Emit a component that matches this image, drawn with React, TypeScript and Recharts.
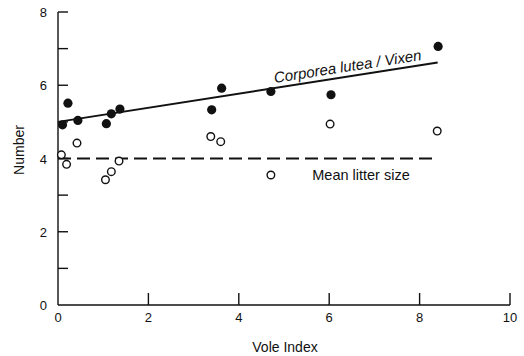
import { ComposedChart, Scatter, XAxis, YAxis, ReferenceLine } from 'recharts';

// Corpora lutea per vixen (filled) and litter size (open) against vole index
const lutea_x = [0.1, 0.22, 0.44, 1.07, 1.18, 1.37, 3.4, 3.62, 4.71, 6.04, 8.41];
const lutea_y = [4.92, 5.51, 5.04, 4.95, 5.22, 5.35, 5.33, 5.92, 5.83, 5.74, 7.06];
const litter_x = [0.075, 0.19, 0.42, 1.05, 1.18, 1.35, 3.38, 3.6, 4.71, 6.02, 8.39];
const litter_y = [4.1, 3.84, 4.42, 3.42, 3.64, 3.93, 4.6, 4.46, 3.55, 4.94, 4.75];

// fitted line end points and mean litter size
const fitStart = { x: 0, y: 5.0 };
const fitEnd = { x: 8.4, y: 6.62 };
const meanLitter = 4;
const meanEnd = 8.4;

const xTicks = [0, 2, 4, 6, 8, 10];
const yTicks = [0, 1, 2, 3, 4, 5, 6, 7, 8];

const luteaData = lutea_x.map((x, i) => ({ x, y: lutea_y[i] }));
const litterData = litter_x.map((x, i) => ({ x, y: litter_y[i] }));

const FONT = '"Liberation Sans", Arial, Helvetica, sans-serif';
const INK = '#111';

const XTick = (props: any) => {
  const { x, y, payload } = props;
  return (
    <g>
      {payload.value !== 0 && (
        <line x1={x} y1={y} x2={x} y2={y - 12} stroke={INK} strokeWidth={1.4} />
      )}
      <text x={x} y={y + 17} textAnchor="middle" fontSize={13} fontFamily={FONT} fill={INK}>
        {payload.value}
      </text>
    </g>
  );
};

const YTick = (props: any) => {
  const { x, y, payload } = props;
  const v = payload.value;
  return (
    <g>
      {v !== 0 && <line x1={x} y1={y} x2={x + 10} y2={y} stroke={INK} strokeWidth={1.4} />}
      {v % 2 === 0 && (
        <text x={x - 11} y={y + 5} textAnchor="end" fontSize={13} fontFamily={FONT} fill={INK}>
          {v}
        </text>
      )}
    </g>
  );
};

const FilledDot = (props: any) => <circle cx={props.cx} cy={props.cy} r={4.6} fill={INK} />;
const OpenDot = (props: any) => (
  <circle cx={props.cx} cy={props.cy} r={3.8} fill="#fff" stroke={INK} strokeWidth={1.4} />
);

const FitLabel = (props: any) => {
  const { x, y, width, height } = props.viewBox;
  const x1 = x;
  const y1 = y + height;
  const x2 = x + width;
  const y2 = y;
  const t = 0.767;
  const px = x1 + t * (x2 - x1);
  const py = y1 + t * (y2 - y1);
  const ang = (Math.atan2(y2 - y1, x2 - x1) * 180) / Math.PI;
  return (
    <text
      x={px}
      y={py - 5}
      textAnchor="middle"
      fontSize={15}
      fontStyle="italic"
      fontFamily={FONT}
      fill={INK}
      transform={`rotate(${ang} ${px} ${py})`}
    >
      Corporea lutea / Vixen
    </text>
  );
};

const MeanLabel = (props: any) => {
  const { x, y } = props.viewBox;
  return (
    <text x={x + 303} y={y + 21} textAnchor="middle" fontSize={14.5} fontFamily={FONT} fill={INK}>
      Mean litter size
    </text>
  );
};

const XTitle = (props: any) => {
  const { x, y, width } = props.viewBox;
  return (
    <text x={x + width / 2 + 1} y={y + 47} textAnchor="middle" fontSize={14} fontFamily={FONT} fill={INK}>
      Vole Index
    </text>
  );
};

const YTitle = (props: any) => {
  const { y } = props.viewBox;
  const cx = 24;
  const cy = y + 138;
  return (
    <text
      x={cx}
      y={cy}
      textAnchor="middle"
      fontSize={14}
      fontFamily={FONT}
      fill={INK}
      transform={`rotate(-90 ${cx} ${cy})`}
    >
      Number
    </text>
  );
};

export default function App() {
  return (
    <div style={{ position: 'absolute', left: 0, top: 0, width: 524, height: 356, background: '#fff' }}>
      <ComposedChart
        width={524}
        height={356}
        margin={{ top: 12, right: 14, bottom: 21, left: 18 }}
      >
        <XAxis
          type="number"
          dataKey="x"
          domain={[0, 10]}
          ticks={xTicks}
          height={30}
          tickSize={0}
          tickMargin={0}
          tickLine={false}
          tick={<XTick />}
          stroke={INK}
          strokeWidth={1.4}
          label={<XTitle />}
        />
        <YAxis
          type="number"
          dataKey="y"
          domain={[0, 8]}
          ticks={yTicks}
          width={40}
          tickSize={0}
          tickMargin={0}
          tickLine={false}
          tick={<YTick />}
          stroke={INK}
          strokeWidth={1.4}
          label={<YTitle />}
        />
        <ReferenceLine
          segment={[fitStart, fitEnd]}
          stroke={INK}
          strokeWidth={2}
          ifOverflow="visible"
          label={<FitLabel />}
        />
        <ReferenceLine
          segment={[{ x: 0, y: meanLitter }, { x: meanEnd, y: meanLitter }]}
          stroke={INK}
          strokeWidth={2}
          strokeDasharray="13 6"
          ifOverflow="visible"
          label={<MeanLabel />}
        />
        <Scatter data={luteaData} shape={<FilledDot />} isAnimationActive={false} />
        <Scatter data={litterData} shape={<OpenDot />} isAnimationActive={false} />
      </ComposedChart>
    </div>
  );
}
